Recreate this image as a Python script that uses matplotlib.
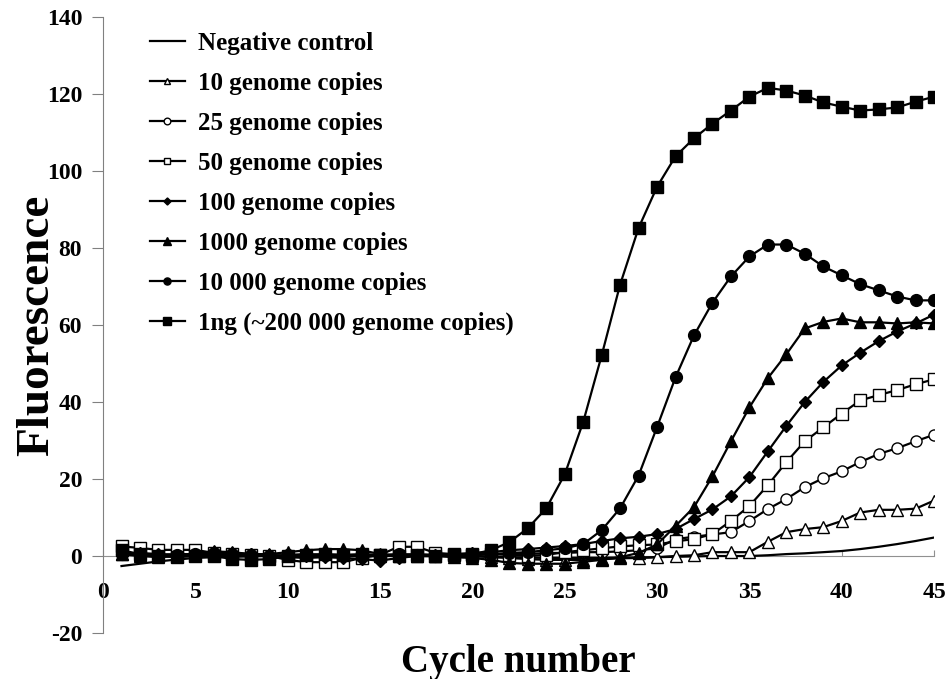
import matplotlib
matplotlib.use("Agg")
import matplotlib.pyplot as plt
import numpy as np

plt.rcParams['font.family'] = ['Liberation Serif', 'DejaVu Serif']
plt.rcParams['font.weight'] = 'bold'
plt.rcParams['axes.unicode_minus'] = False

cycles = list(range(1, 46))

neg = [-2.6, -2.0, -1.4, -0.9, -0.5, -0.3, -0.2, -0.1, 0, 0,
       0, 0, 0, 0, 0, 0, 0, 0, 0, 0,
       -0.2, -0.3, -0.4, -0.5, -0.5, -0.5, -0.5, -0.4, -0.4, -0.3,
       -0.2, -0.1, 0, 0, 0, 0.2, 0.5, 0.7, 1.0, 1.3,
       1.8, 2.4, 3.1, 3.9, 4.8]
ten = [0.5, 0.2, 0, 0, 0.3, 0.5, 0.3, 0, 0.2, 0,
       -0.3, 0, 0.2, 0, 0, 0.3, 0, 0, 0.2, 0,
       -0.3, -0.5, -0.8, -1.0, -1.0, -1.0, -0.8, -0.6, -0.5, -0.3,
       0, 0.2, 1.0, 1.0, 1.0, 3.7, 6.2, 7.0, 7.5, 9.1,
       11.3, 12.0, 12.0, 12.3, 14.4]
twentyfive = [1.0, 0.5, 0.3, 0.5, 0.5, 0.3, 0, 0.2, 0, -0.3,
              -0.5, -0.3, 0, 0, 0.2, 0.3, 0.5, 0.3, 0.2, 0.3,
              0.5, 0.5, 0.5, 0.8, 0.8, 1.0, 1.0, 1.2, 1.5, 2.0,
              4.4, 5.0, 5.6, 6.2, 9.1, 12.2, 14.8, 17.9, 20.2, 22.0,
              24.4, 26.5, 28.0, 29.8, 31.5]
fifty = [2.5, 2.1, 1.6, 1.6, 1.6, 0.8, 0.5, 0.3, 0, -1.0,
         -1.6, -1.6, -1.6, -0.5, 0.3, 2.4, 2.4, 0.8, 0.5, 0.3,
         0.5, 0.3, 0, 0.3, 1.0, 1.5, 2.0, 2.5, 2.8, 3.0,
         3.8, 4.4, 5.7, 9.1, 13.0, 18.4, 24.4, 29.8, 33.4, 37.0,
         40.4, 41.8, 43.1, 44.6, 45.9]
hundred = [0.5, 0.8, 0.5, 0.3, 0.5, 1.0, 0.8, 0.5, 0.3, 0,
           0, -0.3, -0.5, -0.8, -1.2, -0.5, 0, 0.3, 0.5, 0.8,
           1.0, 1.5, 1.8, 2.2, 2.6, 3.1, 3.9, 4.6, 5.0, 5.7,
           7.0, 9.6, 12.1, 15.5, 20.5, 27.2, 33.8, 40.0, 45.2, 49.5,
           52.8, 55.8, 58.3, 60.4, 62.7]
thousand = [0.5, 0, -0.3, 0, 0.5, 1.2, 1.0, 0.5, 0.5, 1.0,
            1.5, 1.8, 1.8, 1.5, 0.5, 0, 0, 0, -0.3, -0.5,
            -1.0, -1.8, -2.0, -2.0, -2.0, -1.5, -1.0, -0.3, 0.8, 3.0,
            7.8, 12.7, 20.7, 29.8, 38.6, 46.2, 52.4, 59.1, 60.8, 61.7,
            60.7, 60.7, 60.4, 60.7, 60.4]
tenk = [0.5, 0.3, 0, 0.3, 0.5, 0.8, 0.5, 0.3, 0, 0.3,
        0.5, 0.3, 0.3, 0, 0.3, 0.5, 0.3, 0, 0.3, 0.5,
        0.5, 0.8, 1.0, 1.5, 2.0, 3.1, 6.7, 12.4, 20.9, 33.5,
        46.4, 57.3, 65.8, 72.6, 77.8, 80.9, 80.9, 78.5, 75.2, 72.9,
        70.6, 69.0, 67.4, 66.4, 66.4]
onegram = [1.5, 0.5, 0, -0.3, 0, 0, -0.8, -1.0, -0.8, 0,
           0.3, 0.5, 0.3, 0.5, 0.3, 0, 0.3, 0, 0.3, 0.5,
           1.5, 3.6, 7.2, 12.4, 21.2, 34.8, 52.1, 70.5, 85.2, 95.9,
           103.8, 108.5, 112.3, 115.7, 119.3, 121.6, 120.9, 119.6, 117.8, 116.7,
           115.7, 116.0, 116.5, 118.0, 119.3]

labels = ["Negative control", "10 genome copies", "25 genome copies",
          "50 genome copies", "100 genome copies", "1000 genome copies",
          "10 000 genome copies", "1ng (~200 000 genome copies)"]

fig = plt.figure(figsize=(9.48, 6.79), dpi=100)
ax = fig.add_axes([0.1087, 0.0677, 0.8766, 0.9073])

styles = [
    (neg, None, 'k', 0),
    (ten, '^', 'white', 8),
    (twentyfive, 'o', 'white', 8),
    (fifty, 's', 'white', 8),
    (hundred, 'D', 'k', 6),
    (thousand, '^', 'k', 8.5),
    (tenk, 'o', 'k', 8.5),
    (onegram, 's', 'k', 8.5),
]
for (vals, mk, fc, ms), lab in zip(styles, labels):
    ax.plot(cycles, vals, color='k', lw=1.6, marker=mk, markersize=ms,
            markerfacecolor=fc, markeredgecolor='k', markeredgewidth=1.0,
            label=lab)

ax.set_xlim(0, 45)
ax.set_ylim(-20, 140)
ax.set_xticks(range(0, 46, 5))
ax.set_yticks(range(-20, 141, 20))

for s in ['top', 'right']:
    ax.spines[s].set_visible(False)
ax.spines['left'].set_color('#808080')
ax.spines['bottom'].set_position(('data', 0))
ax.spines['bottom'].set_color('#909090')
ax.spines['bottom'].set_zorder(0)
ax.tick_params(axis='y', direction='out', length=8, color='#808080',
               labelsize=17, pad=7)
ax.tick_params(axis='x', direction='in', length=4, color='#909090',
               labelsize=17, pad=19)

ax.set_xlabel("Cycle number", fontsize=28, fontweight='bold')
ax.xaxis.set_label_coords(0.5, -0.017)
ax.set_ylabel("Fluorescence", fontsize=34, fontweight='bold')
ax.yaxis.set_label_coords(-0.054, 0.5)

leg = ax.legend(loc='upper left', bbox_to_anchor=(0.038, 1.0), frameon=False,
                fontsize=18, handlelength=1.4, handletextpad=0.55,
                labelspacing=0.68, markerscale=0.6, borderaxespad=0.2)
for t in leg.get_texts():
    t.set_fontweight('bold')

fig.savefig("out.png", dpi=100)
